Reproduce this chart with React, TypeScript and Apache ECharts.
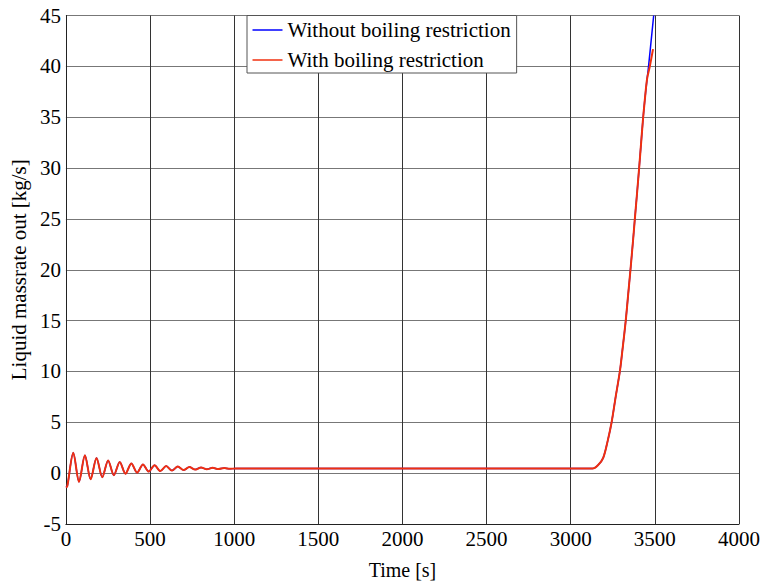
import React, { useEffect, useRef } from "react";
import * as echarts from "echarts";

// Time samples [s] and liquid massrate [kg/s]
const oscTime = [0, 8, 44, 78, 113, 147, 182, 216, 251, 285, 320, 354, 389, 423, 458, 492, 527, 561, 596, 630, 665, 699, 734, 768, 803, 837, 872, 906, 941, 975, 1010, 1500, 2000, 2500, 3000, 3130];
const oscValue = [-1.4, -1.3, 2.0, -0.85, 1.75, -0.6, 1.5, -0.4, 1.25, -0.2, 1.1, -0.05, 0.95, 0.05, 0.85, 0.15, 0.78, 0.2, 0.7, 0.25, 0.65, 0.3, 0.6, 0.35, 0.56, 0.38, 0.52, 0.4, 0.5, 0.43, 0.46, 0.45, 0.45, 0.45, 0.45, 0.45];
const riseTime = [3163, 3193, 3220, 3243, 3268, 3292, 3310, 3327, 3341, 3355, 3371, 3381, 3394, 3406, 3418, 3430, 3442, 3454];
const riseValue = [0.8, 1.5, 3.2, 5.0, 7.6, 10.0, 12.5, 15.0, 17.5, 20.0, 23.0, 25.0, 27.5, 29.9, 32.4, 34.9, 37.0, 38.8];
const blueEndTime = [3460, 3493];
const blueEndValue = [39.6, 45];
const redEndTime = [3470, 3489];
const redEndValue = [40.0, 41.7];

const seriesNames = ["Without boiling restriction", "With boiling restriction"];
const xTicks = { min: 0, max: 4000, interval: 500 };
const yTicks = { min: -5, max: 45, interval: 5 };

function pairs(ts: number[], vs: number[]) {
  return ts.map((t, i) => [t, vs[i]]);
}

export default function App() {
  const ref = useRef<HTMLDivElement>(null);
  useEffect(() => {
    document.body.style.margin = "0";
    const chart = echarts.init(ref.current!, undefined, { renderer: "svg" });
    const base = [...pairs(oscTime, oscValue), ...pairs(riseTime, riseValue)];
    const blue = [...base, ...pairs(blueEndTime, blueEndValue)];
    const red = [...base, ...pairs(redEndTime, redEndValue)];
    const font = "Liberation Serif";
    chart.setOption({
      animation: false,
      backgroundColor: "#ffffff",
      textStyle: { fontFamily: font },
      grid: { left: 63.5, top: 15.5, right: 25, bottom: 50, containLabel: false },
      legend: {
        left: 247,
        top: 15.5,
        orient: "vertical",
        icon: "rect",
        itemWidth: 30,
        itemHeight: 1.5,
        itemGap: 8,
        padding: [3.5, 6, 2, 5.5],
        backgroundColor: "#ffffff",
        borderColor: "#555555",
        borderWidth: 1,
        textStyle: { fontFamily: font, fontSize: 21, color: "#000", lineHeight: 22 },
        data: seriesNames,
      },
      xAxis: {
        type: "value",
        min: xTicks.min,
        max: xTicks.max,
        interval: xTicks.interval,
        name: "Time [s]",
        nameLocation: "middle",
        nameGap: 36,
        nameTextStyle: { fontFamily: font, fontSize: 20, color: "#000" },
        axisLine: { show: true, onZero: false, lineStyle: { color: "#222", width: 1 } },
        axisTick: { show: false },
        axisLabel: { fontFamily: font, fontSize: 21, color: "#000", margin: 4, formatter: (v: number) => String(v) },
        splitLine: { show: true, lineStyle: { color: "#333", width: 1 } },
      },
      yAxis: {
        type: "value",
        min: yTicks.min,
        max: yTicks.max,
        interval: yTicks.interval,
        name: "Liquid massrate out [kg/s]",
        nameLocation: "middle",
        nameGap: 34,
        nameTextStyle: { fontFamily: font, fontSize: 21, color: "#000" },
        axisLine: { show: true, onZero: false, lineStyle: { color: "#222", width: 1 } },
        axisTick: { show: false },
        axisLabel: { fontFamily: font, fontSize: 21, color: "#000", margin: 5, formatter: (v: number) => String(v) },
        splitLine: { show: true, lineStyle: { color: "#777", width: 1 } },
      },
      series: [
        {
          name: seriesNames[0],
          type: "line",
          data: blue,
          showSymbol: false,
          smooth: 0.3,
          color: "#0000ff",
          lineStyle: { color: "#0000ff", width: 1.5 },
          clip: true,
        },
        {
          name: seriesNames[1],
          type: "line",
          data: red,
          showSymbol: false,
          smooth: 0.3,
          color: "#f0300f",
          lineStyle: { color: "#f0300f", width: 2 },
          clip: true,
        },
      ],
    });
    return () => chart.dispose();
  }, []);
  return <div ref={ref} style={{ width: 764, height: 585 }} />;
}
